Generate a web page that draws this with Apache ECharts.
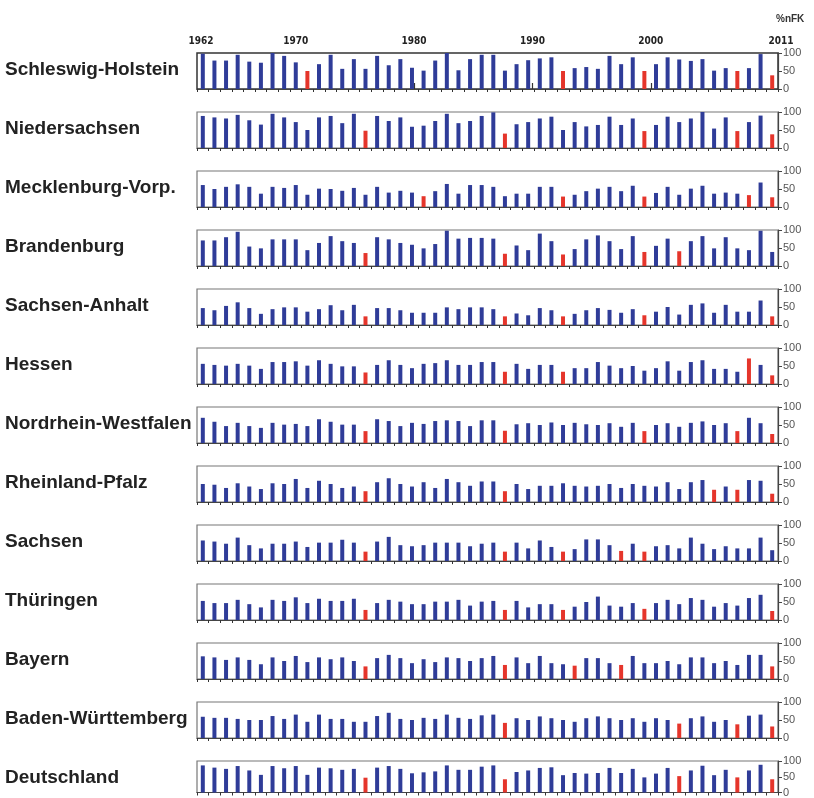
<!DOCTYPE html>
<html>
<head>
<meta charset="utf-8">
<title>Bodenfeuchte %nFK 1962-2011</title>
<script src="https://cdn.jsdelivr.net/npm/echarts@6/dist/echarts.min.js"></script>
<style>
  html, body { margin: 0; padding: 0; background: #fff; }
  #chart { width: 814px; height: 798px; }
</style>
</head>
<body>
<div id="chart"></div>
<script>
// x categories
const years = [
  1962, 1963, 1964, 1965, 1966, 1967, 1968, 1969, 1970, 1971,
  1972, 1973, 1974, 1975, 1976, 1977, 1978, 1979, 1980, 1981,
  1982, 1983, 1984, 1985, 1986, 1987, 1988, 1989, 1990, 1991,
  1992, 1993, 1994, 1995, 1996, 1997, 1998, 1999, 2000, 2001,
  2002, 2003, 2004, 2005, 2006, 2007, 2008, 2009, 2010, 2011
];
const topLabels = [1962, 1970, 1980, 1990, 2000, 2011];
const topTicks = [1970, 1980, 1990, 2000];

// %nFK per year, one list per Land
const schleswigHolstein = [98,79,79,95,76,73,100,92,74,50,69,95,56,83,56,92,66,83,59,51,79,100,52,83,95,95,51,69,80,85,88,50,58,61,56,92,69,88,50,69,88,82,78,83,51,58,50,58,97,38];
const niedersachsen = [89,85,82,92,77,65,95,85,72,50,85,89,69,95,48,89,75,85,59,62,75,95,69,75,89,99,40,66,72,82,87,50,72,60,64,87,64,82,47,64,87,72,82,100,54,85,47,72,90,38];
const mecklenburg = [61,50,56,63,56,37,56,53,61,34,51,50,45,53,34,56,40,45,40,30,44,64,37,61,61,56,30,37,37,56,56,29,34,44,51,56,44,59,29,39,56,34,51,59,37,40,37,33,68,27];
const brandenburg = [71,71,80,95,54,49,74,74,74,44,64,83,69,64,36,80,74,64,59,49,61,98,76,78,78,76,34,57,44,90,69,32,47,74,85,69,47,83,39,56,76,41,69,83,49,80,49,44,98,39];
const sachsenAnhalt = [47,41,53,63,47,31,44,49,49,37,44,55,41,56,24,47,47,41,34,34,34,49,44,49,49,44,24,32,27,47,41,24,31,41,47,42,34,44,27,37,50,29,56,60,34,56,37,37,68,24];
const hessen = [56,53,51,56,51,42,61,61,63,51,66,56,49,49,32,53,66,53,44,56,58,66,53,53,61,61,34,56,42,53,53,34,44,44,61,51,44,50,37,44,63,37,61,66,42,42,34,71,53,24];
const nordrheinWestfalen = [70,59,47,56,47,42,56,51,53,47,66,59,51,51,33,66,61,47,56,53,61,63,61,47,63,63,34,52,55,50,57,50,56,52,50,55,45,56,33,50,55,45,56,60,50,55,33,70,55,25];
const rheinlandPfalz = [50,48,39,52,43,36,52,50,64,39,59,50,39,43,30,55,66,50,43,55,39,64,55,45,57,57,30,50,36,45,45,52,45,43,45,50,39,50,45,43,55,36,55,61,34,43,34,61,59,23];
const sachsen = [57,54,48,65,44,35,48,48,54,39,51,51,59,51,26,54,67,44,41,44,51,51,51,41,48,51,26,51,35,57,39,26,33,60,60,44,28,48,26,41,44,35,65,48,33,41,35,35,65,30];
const thueringen = [53,47,47,56,44,35,56,53,63,47,59,53,53,59,28,47,56,51,44,44,51,51,56,40,51,53,28,53,35,44,44,28,37,50,65,40,37,47,31,47,56,44,61,56,37,47,40,61,70,25];
const bayern = [63,60,53,60,53,41,60,50,64,47,60,55,60,50,35,58,67,58,44,55,47,60,58,50,58,64,39,60,44,64,44,41,37,58,58,44,39,64,44,44,50,41,60,60,44,50,39,67,67,35];
const badenWuerttemberg = [59,56,56,53,50,50,61,53,65,45,65,53,53,45,45,61,70,53,50,56,53,65,56,53,63,65,42,55,50,60,55,50,45,55,60,55,50,55,45,55,50,40,55,60,45,50,38,62,65,32];
const deutschland = [86,79,75,84,70,56,84,77,84,56,79,77,72,75,47,79,84,75,61,64,67,86,72,72,82,86,42,65,70,78,80,55,62,60,62,78,62,75,48,60,78,52,70,85,55,72,48,70,88,42];

// dry years drawn in red, per Land
const redSH = [1971, 1993, 2000, 2008, 2011];
const redNI = [1976, 1988, 2000, 2008, 2011];
const redMV = [1981, 1993, 2000, 2009, 2011];
const redBB = [1976, 1988, 1993, 2000, 2003];
const redST = [1976, 1988, 1993, 2000, 2011];
const redHE = [1976, 1988, 1993, 2009, 2011];
const redNW = [1976, 1988, 2000, 2008, 2011];
const redRP = [1976, 1988, 2006, 2008, 2011];
const redSN = [1976, 1988, 1993, 1998, 2000];
const redTH = [1976, 1988, 1993, 2000, 2011];
const redBY = [1976, 1988, 1994, 1998, 2011];
const redBW = [1988, 2003, 2008, 2011];
const redDE = [1976, 1988, 2003, 2008, 2011];

const rows = [
  { name: "Schleswig-Holstein", values: schleswigHolstein, red: redSH },
  { name: "Niedersachsen", values: niedersachsen, red: redNI },
  { name: "Mecklenburg-Vorp.", values: mecklenburg, red: redMV },
  { name: "Brandenburg", values: brandenburg, red: redBB },
  { name: "Sachsen-Anhalt", values: sachsenAnhalt, red: redST },
  { name: "Hessen", values: hessen, red: redHE },
  { name: "Nordrhein-Westfalen", values: nordrheinWestfalen, red: redNW },
  { name: "Rheinland-Pfalz", values: rheinlandPfalz, red: redRP },
  { name: "Sachsen", values: sachsen, red: redSN },
  { name: "Thüringen", values: thueringen, red: redTH },
  { name: "Bayern", values: bayern, red: redBY },
  { name: "Baden-Württemberg", values: badenWuerttemberg, red: redBW },
  { name: "Deutschland", values: deutschland, red: redDE }
];

const BLUE = "#2f3c98";
const RED = "#e5352b";
const AXIS = "#444";
const GRID_LEFT = 197;
const GRID_WIDTH = 581;
const FIRST_TOP = 53;
const ROW_STEP = 59;
const ROW_HEIGHT = 36;

const grid = [];
const xAxis = [];
const yAxis = [];
const series = [];
const graphic = [];

rows.forEach((row, i) => {
  const top = FIRST_TOP + i * ROW_STEP;
  grid.push({
    left: GRID_LEFT,
    top: top,
    width: GRID_WIDTH,
    height: ROW_HEIGHT,
    show: true,
    borderColor: i === 0 ? "#333" : "#777",
    borderWidth: i === 0 ? 1.5 : 1.2
  });
  xAxis.push({
    type: "category",
    gridIndex: i,
    data: years,
    boundaryGap: true,
    axisLine: { show: true, lineStyle: { color: AXIS, width: 1.2 } },
    axisTick: { show: true, interval: 0, length: 3, lineStyle: { color: "#333" } },
    axisLabel: { show: false },
    splitLine: { show: false }
  });
  yAxis.push({
    type: "value",
    gridIndex: i,
    position: "right",
    min: 0,
    max: 100,
    interval: 50,
    axisLine: { show: true, lineStyle: { color: AXIS, width: 1.2 } },
    axisTick: { show: true, length: 4, lineStyle: { color: AXIS } },
    axisLabel: {
      show: true,
      margin: 5,
      fontSize: 11,
      color: "#555",
      fontFamily: "Liberation Sans"
    },
    splitLine: { show: false }
  });
  series.push({
    type: "bar",
    xAxisIndex: i,
    yAxisIndex: i,
    barWidth: 4,
    data: row.values.map((v, k) => ({
      value: v,
      itemStyle: { color: row.red.indexOf(years[k]) >= 0 ? RED : BLUE }
    }))
  });
  graphic.push({
    type: "text",
    left: 5,
    top: top + ROW_HEIGHT / 2 - 11,
    style: {
      text: row.name,
      font: "bold 19px 'Liberation Sans', Arial, sans-serif",
      fill: "#222"
    }
  });
});

// year axis along the top of the first panel
const topIdx = rows.length;
grid.push({ left: 201, top: FIRST_TOP, width: 580, height: ROW_HEIGHT, show: false });
xAxis.push({
  type: "value",
  gridIndex: topIdx,
  position: "top",
  min: 1962,
  max: 2011,
  axisLine: { show: false },
  axisTick: {
    show: true,
    length: 6,
    customValues: topTicks,
    lineStyle: { color: "#333", width: 1.2 }
  },
  axisLabel: {
    show: true,
    customValues: topLabels,
    formatter: (v) => String(v),
    margin: 7,
    fontSize: 10,
    fontWeight: "bold",
    color: "#222",
    fontFamily: "'Liberation Sans Narrow', 'DejaVu Sans Condensed', sans-serif"
  },
  splitLine: { show: false }
});
yAxis.push({ type: "value", gridIndex: topIdx, show: false, min: 0, max: 100 });

graphic.push({
  type: "text",
  left: 776,
  top: 14,
  style: {
    text: "%nFK",
    font: "bold 10px 'Liberation Sans Narrow', sans-serif",
    fill: "#333"
  }
});

const chart = echarts.init(document.getElementById("chart"), null, { renderer: "canvas" });
chart.setOption({
  animation: false,
  backgroundColor: "#fff",
  grid: grid,
  xAxis: xAxis,
  yAxis: yAxis,
  series: series,
  graphic: graphic
});
</script>
</body>
</html>
